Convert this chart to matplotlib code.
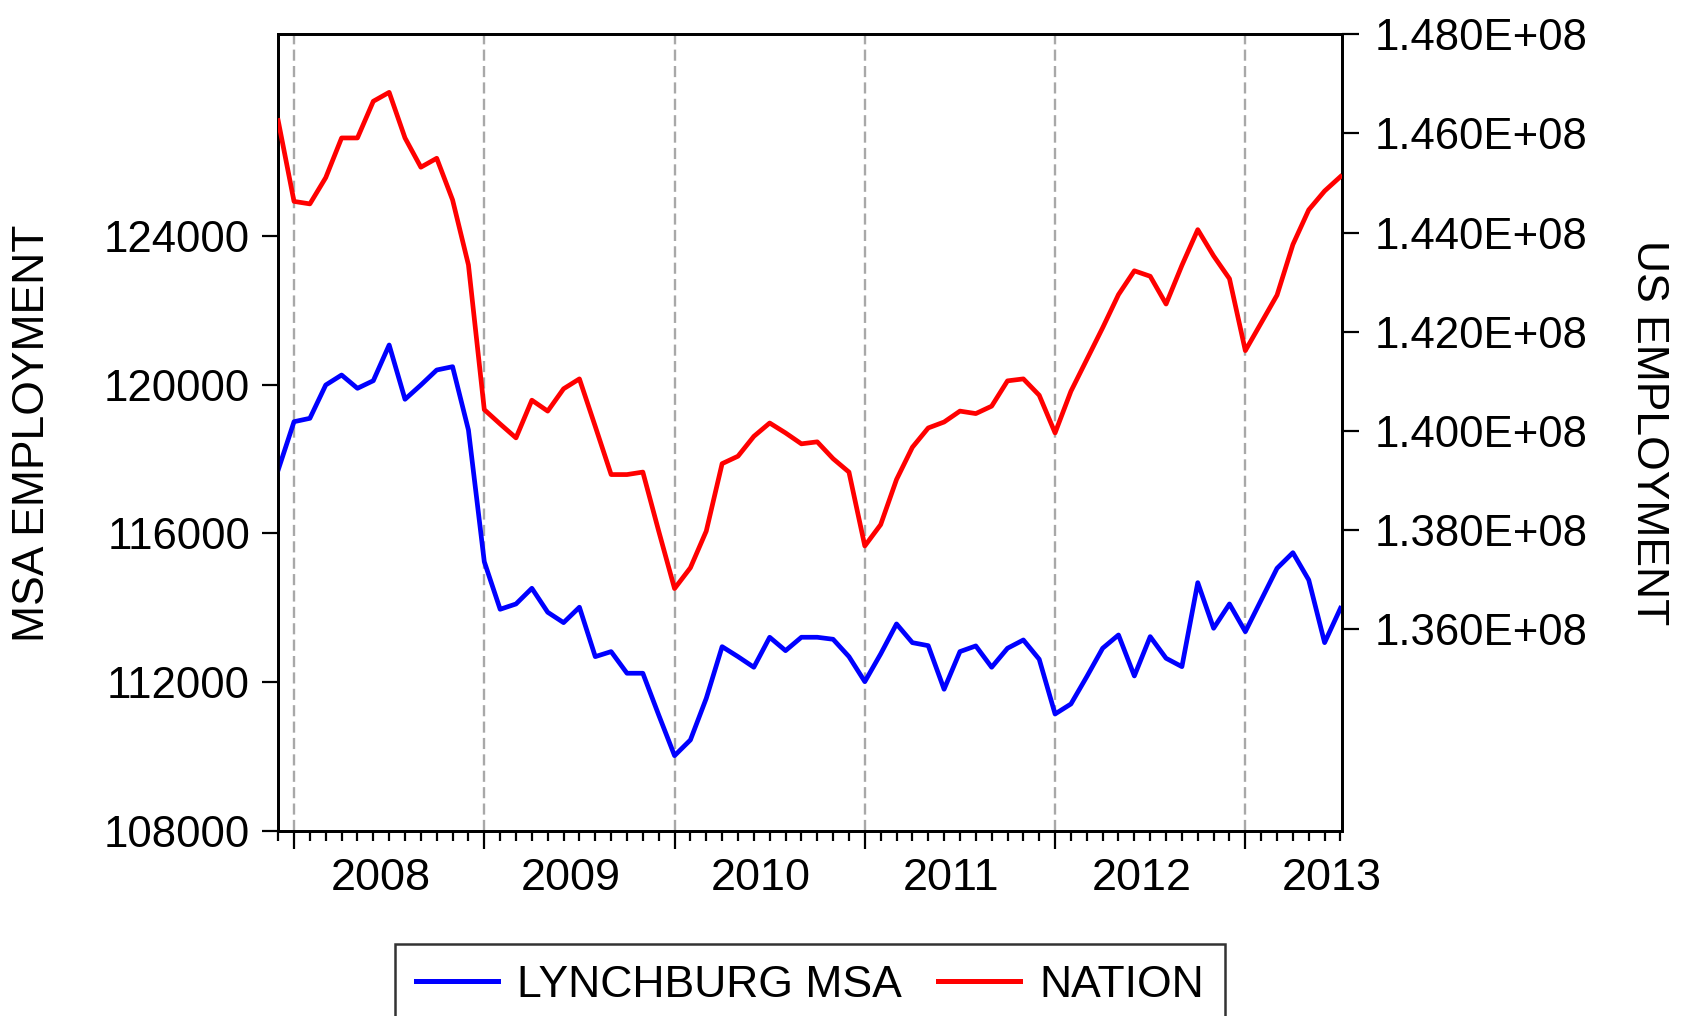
import matplotlib
matplotlib.use("Agg")
import matplotlib.pyplot as plt
import numpy as np
from matplotlib.ticker import FuncFormatter, FixedLocator

plt.rcParams['font.family'] = ['Liberation Sans', 'DejaVu Sans']
plt.rcParams['lines.scale_dashes'] = False

# Monthly observations, Dec 2007 .. Jul 2013
months = (["2007-12"] +
          [f"{y}-{m:02d}" for y in range(2008, 2013) for m in range(1, 13)] +
          [f"2013-{m:02d}" for m in range(1, 8)])

msa = [117705, 119004, 119095, 119991, 120260, 119902, 120107, 121068, 119607,
       119991, 120395, 120484, 118781,
       115238, 113957, 114100, 114522, 113877, 113598, 114012, 112683, 112818,
       112236, 112236, 111113,
       110019, 110441, 111560, 112951, 112683, 112397, 113204, 112844, 113204,
       113204, 113150, 112683,
       112010, 112755, 113562, 113059, 112978, 111805, 112818, 112971, 112397,
       112908, 113131, 112612,
       111140, 111409, 112144, 112908, 113266, 112163, 113221, 112639, 112413,
       114673, 113446, 114100,
       113355, 114207, 115060, 115480, 114745, 113059, 113984]

nation = [146260000, 144630000, 144580000, 145110000, 145910000, 145910000,
          146650000, 146830000, 145910000, 145320000, 145500000, 144660000,
          143350000,
          140430000, 140140000, 139860000, 140620000, 140400000, 140850000,
          141050000, 140090000, 139120000, 139120000, 139170000, 137980000,
          136820000, 137240000, 137980000, 139340000, 139490000, 139890000,
          140160000, 139960000, 139740000, 139780000, 139440000, 139170000,
          137680000, 138110000, 139020000, 139670000, 140060000, 140180000,
          140400000, 140350000, 140500000, 141010000, 141050000, 140720000,
          139960000, 140800000, 141440000, 142080000, 142750000, 143230000,
          143120000, 142560000, 143340000, 144060000, 143530000, 143070000,
          141620000, 142180000, 142740000, 143760000, 144460000, 144840000,
          145130000]

years = ["2008", "2009", "2010", "2011", "2012", "2013"]
left_ticks = [108000, 112000, 116000, 120000, 124000]
right_ticks = [1.36e8, 1.38e8, 1.40e8, 1.42e8, 1.44e8, 1.46e8, 1.48e8]

# positions: month index relative to Jan 2008
x = np.arange(len(months)) - 1
jan_pos = [months.index(f"{y}-01") - 1 for y in years]
mid_pos = [p + 5.45 for p in jan_pos]

fig = plt.figure(figsize=(16.82, 10.16), dpi=100)
ax = fig.add_axes([0.1651, 0.1816, 0.7977 - 0.1651, 0.9662 - 0.1816])
ax2 = ax.twinx()

for p in jan_pos:
    ax.axvline(p, color='#a8a8a8', lw=1.7, dashes=(8, 3.8), zorder=1)

l1, = ax.plot(x, msa, color='#0000ff', lw=3.4, zorder=3, label='LYNCHBURG MSA')
l2, = ax2.plot(x, nation, color='#ff0000', lw=3.4, zorder=3, label='NATION')

ax.set_xlim(-1.03, 66.08)
ax.set_ylim(107978, 129426)
ax2.set_ylim(1.3192e8, 1.48e8)

FS = 31.5
ax.set_yticks(left_ticks)
ax.set_yticklabels([str(v) for v in left_ticks])
ax2.set_yticks(right_ticks)
ax2.yaxis.set_major_formatter(FuncFormatter(lambda v, p: f"{v:.3E}"))

ax.set_xticks(jan_pos)
ax.set_xticklabels([])
ax.xaxis.set_minor_locator(FixedLocator(list(x)))

ax.tick_params(axis='x', which='major', direction='out', length=13, width=1.6)
ax.tick_params(axis='x', which='minor', direction='out', length=7, width=1.6)
ax.tick_params(axis='y', direction='out', length=11.5, width=1.6, pad=8.4,
               labelsize=FS)
ax2.tick_params(axis='y', direction='out', length=12, width=1.6, pad=12,
                labelsize=FS)

sec = ax.secondary_xaxis('bottom')
sec.set_xticks(mid_pos)
sec.set_xticklabels(years)
sec.tick_params(axis='x', length=0, pad=19, labelsize=32.4)
sec.spines['bottom'].set_visible(False)
sec.xaxis.set_minor_locator(FixedLocator([]))

for a in (ax, ax2):
    for s in a.spines.values():
        s.set_linewidth(2.0)
        s.set_color('black')

ax.set_ylabel('MSA EMPLOYMENT', fontsize=32)
ax.yaxis.label.set_va('center')
ax.yaxis.set_label_coords(-0.2309, 0.5)
ax2.set_ylabel('US EMPLOYMENT', fontsize=32, rotation=-90)
ax2.yaxis.label.set_va('center')
ax2.yaxis.set_label_coords(1.2879, 0.5)

leg = fig.legend([l1, l2], ['LYNCHBURG MSA', 'NATION'], ncol=2,
                 loc='upper center', bbox_to_anchor=(0.4815, 1 - 944 / 1016),
                 fontsize=32, frameon=True, fancybox=False, edgecolor='black',
                 borderpad=0.47, handlelength=1.86, handletextpad=0.43,
                 columnspacing=0.8, borderaxespad=0)
leg.get_frame().set_linewidth(1.8)
for h in leg.legend_handles:
    h.set_linewidth(3.6)

fig.savefig('out.png', dpi=100)
